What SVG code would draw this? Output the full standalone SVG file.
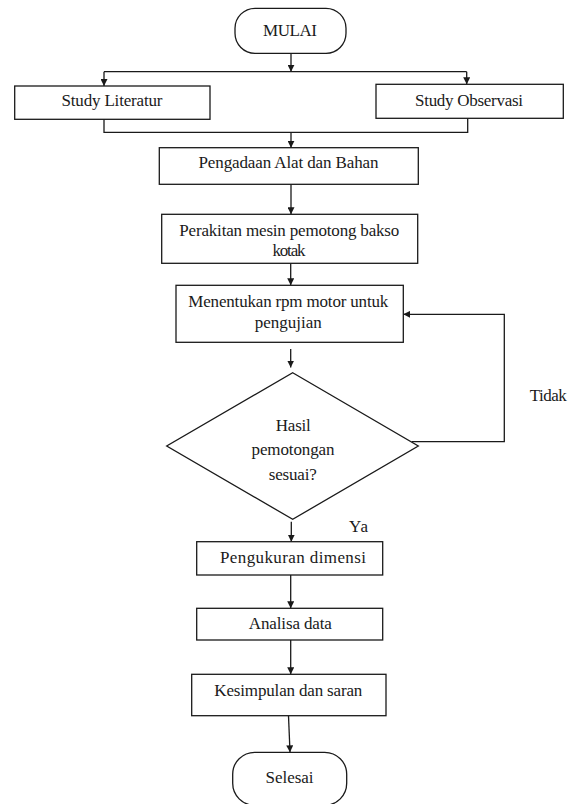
<svg xmlns="http://www.w3.org/2000/svg" width="580" height="804" viewBox="0 0 580 804">
<defs>
<marker id="arr" markerUnits="userSpaceOnUse" markerWidth="7" markerHeight="7" refX="7" refY="3.5" orient="auto">
<path d="M0,0 L7,3.5 L0,7 z" fill="#1a1a1a"/>
</marker>
<style>
.box{fill:#ffffff;stroke:#1a1a1a;stroke-width:1.3}
.con{fill:none;stroke:#1a1a1a;stroke-width:1.3}
.arw{marker-end:url(#arr)}
text{font-size:17px;fill:#1a1a1a;text-anchor:middle}
</style>
</defs>
<rect x="0" y="0" width="580" height="804" fill="#ffffff"/>
<g font-family="'Liberation Serif', 'DejaVu Serif', serif">
<g id="connectors">
<line class="con arw" x1="291" y1="53.3" x2="291" y2="71.7"/>
<line class="con" x1="104" y1="71.7" x2="466.7" y2="71.7"/>
<line class="con arw" x1="104" y1="71.7" x2="104" y2="86"/>
<line class="con arw" x1="466.7" y1="71.7" x2="466.7" y2="84.3"/>
<polyline class="con" points="104,119.3 104,132.3 467.7,132.3 467.7,118.3"/>
<line class="con arw" x1="291" y1="132.3" x2="291" y2="147.7"/>
<line class="con arw" x1="291" y1="184.3" x2="291" y2="214.3"/>
<line class="con arw" x1="290.7" y1="263.3" x2="290.7" y2="285.3"/>
<line class="con arw" x1="290.7" y1="349" x2="290.7" y2="367.5"/>
<polyline class="con arw" points="411.7,441.7 504.3,441.7 504.3,314.3 403.3,314.3"/>
<line class="con arw" x1="291.3" y1="521.7" x2="291.3" y2="541.7"/>
<line class="con arw" x1="290.7" y1="575" x2="290.7" y2="608.3"/>
<line class="con arw" x1="290.7" y1="640" x2="290.7" y2="674.3"/>
<line class="con arw" x1="288.5" y1="715.7" x2="290" y2="752.3"/>
<text x="548.3" y="401" textLength="37">Tidak</text>
<text x="358.5" y="532" textLength="19">Ya</text>
</g>
<g id="mulai">
<rect class="box" x="235" y="8.3" width="111" height="45" rx="20" ry="20"/>
<text x="290" y="36" textLength="54">MULAI</text>
</g>
<g id="study-literatur">
<rect class="box" x="14.7" y="86" width="195.3" height="33.3"/>
<text x="112" y="106" textLength="101">Study Literatur</text>
</g>
<g id="study-observasi">
<rect class="box" x="376" y="84.3" width="187.3" height="34"/>
<text x="469" y="106" textLength="108">Study Observasi</text>
</g>
<g id="pengadaan">
<rect class="box" x="159.3" y="147.7" width="259" height="36.6"/>
<text x="288.5" y="168" textLength="180">Pengadaan Alat dan Bahan</text>
</g>
<g id="perakitan">
<rect class="box" x="161.7" y="214.3" width="256" height="49"/>
<text x="289.3" y="236" textLength="220">Perakitan mesin pemotong bakso</text>
<text x="289" y="256" textLength="33">kotak</text>
</g>
<g id="menentukan">
<rect class="box" x="176" y="285.3" width="227.3" height="57"/>
<text x="288.3" y="307" textLength="200">Menentukan rpm motor untuk</text>
<text x="288.3" y="328" textLength="67">pengujian</text>
</g>
<g id="keputusan">
<polygon class="box" points="292.7,372.7 418.3,446 292.7,519.3 166.7,446"/>
<text x="293.3" y="431" textLength="35">Hasil</text>
<text x="293" y="455" textLength="83">pemotongan</text>
<text x="292.8" y="480" textLength="48">sesuai?</text>
</g>
<g id="pengukuran">
<rect class="box" x="196.7" y="541.7" width="186" height="33.3"/>
<text x="293" y="563" textLength="146">Pengukuran dimensi</text>
</g>
<g id="analisa">
<rect class="box" x="196.7" y="608.3" width="186" height="31.7"/>
<text x="290.3" y="629" textLength="83">Analisa data</text>
</g>
<g id="kesimpulan">
<rect class="box" x="191.7" y="674.3" width="194.3" height="41.4"/>
<text x="288.3" y="696" textLength="148">Kesimpulan dan saran</text>
</g>
<g id="selesai">
<rect class="box" x="232.7" y="752.3" width="114" height="53" rx="22" ry="22"/>
<text x="289.5" y="783" textLength="48">Selesai</text>
</g>
</g>
</svg>
